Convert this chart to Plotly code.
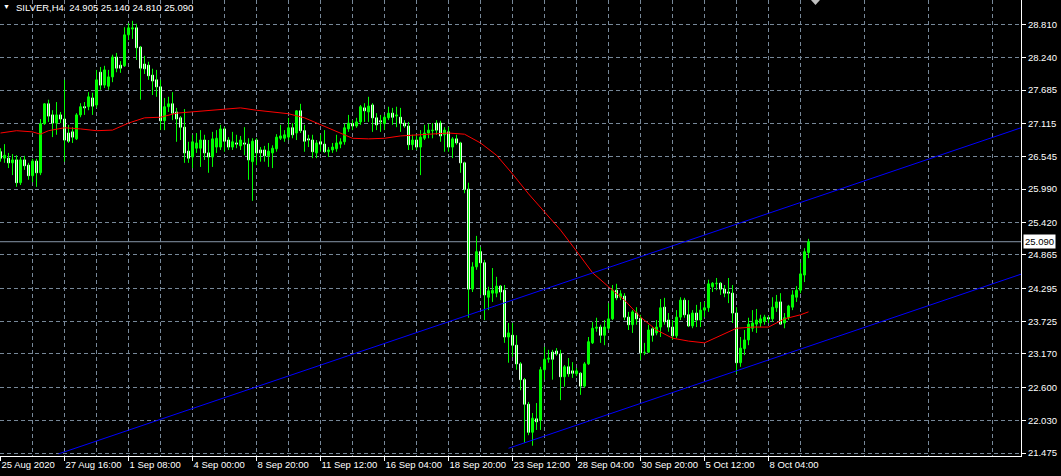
import plotly.graph_objects as go

symbol_text = "SILVER,H4\u00a0\u00a024.905 25.140 24.810 25.090"

open_ = [26.63,26.52,26.52,26.44,26.49,26.10,26.49,26.40,26.22,26.47,
26.27,27.11,27.45,27.26,27.12,27.26,27.19,26.95,26.97,26.85,
27.26,27.40,27.40,27.55,27.43,27.99,27.77,27.75,27.91,28.25,
28.11,28.10,28.63,28.73,28.75,28.42,28.13,28.11,27.94,27.86,
27.74,27.16,27.40,27.45,27.31,27.21,27.05,26.64,26.54,26.69,
26.69,26.83,26.61,26.54,26.71,26.71,27.02,26.83,26.71,26.78,
26.73,26.78,26.76,26.46,26.83,26.66,26.66,26.56,26.61,26.68,
26.86,26.86,26.88,27.04,26.95,27.33,26.99,26.85,26.83,26.61,
26.80,26.76,26.63,26.66,26.68,26.76,26.80,27.02,27.11,27.07,
27.14,27.38,27.31,27.43,27.21,27.16,27.11,27.21,27.29,27.24,
27.22,27.12,27.07,26.75,26.83,26.71,26.86,26.95,26.99,27.12,
27.12,26.92,26.97,26.71,26.85,26.78,26.44,25.99,24.28,24.66,
24.92,24.73,24.14,24.21,24.21,24.33,24.26,23.46,23.49,23.32,
23.00,22.73,22.31,21.83,22.06,22.04,22.90,23.08,23.20,23.22,
23.17,22.78,22.95,22.88,22.83,22.84,22.62,23.00,23.36,23.61,
23.63,23.49,23.61,23.77,24.26,24.14,24.16,23.80,23.67,23.87,
23.78,23.19,23.20,23.60,23.53,23.63,23.97,23.75,23.63,23.48,
23.80,24.09,23.84,23.65,23.87,23.75,23.92,23.96,24.32,24.37,
24.38,24.28,24.23,24.21,23.87,23.02,23.26,23.41,23.61,23.68,
23.70,23.73,23.79,23.77,23.96,24.06,23.70,23.79,23.97,24.14,
24.26,24.52,24.905]

high = [26.69,26.76,26.61,26.59,26.57,26.54,26.56,26.44,26.51,26.51,
27.19,27.46,27.52,27.34,27.48,27.31,27.86,27.09,27.05,27.29,
27.46,27.48,27.65,27.64,28.03,28.08,28.10,28.03,28.29,28.32,
28.18,28.76,28.83,28.87,28.82,28.44,28.27,28.17,28.05,28.03,
27.86,27.55,27.57,27.65,27.38,27.24,27.36,26.80,26.92,26.95,
27.00,26.92,26.83,26.97,27.00,27.09,27.05,26.88,26.97,26.92,
26.90,27.05,26.86,26.86,26.86,26.71,26.73,26.78,26.74,26.93,
27.09,27.00,27.21,27.12,27.34,27.45,27.09,26.92,26.92,26.83,
26.92,27.00,26.71,26.78,26.92,26.86,27.11,27.26,27.17,27.21,
27.43,27.46,27.57,27.46,27.29,27.26,27.26,27.40,27.38,27.40,
27.38,27.17,27.14,26.92,26.92,27.00,27.09,27.11,27.12,27.17,
27.16,27.05,27.05,26.88,26.92,26.80,26.46,26.10,24.74,25.19,
25.00,24.78,24.32,24.64,24.49,24.35,24.35,23.70,23.70,23.49,
23.03,22.76,22.35,22.16,22.33,22.95,23.29,23.24,23.24,23.27,
23.24,22.98,23.10,23.03,22.93,22.86,23.03,23.46,23.72,23.79,
23.67,23.75,24.04,24.35,24.37,24.26,24.21,23.89,23.92,23.97,
23.84,23.36,23.67,23.63,23.75,24.11,24.13,23.87,23.75,23.92,
24.14,24.13,24.09,23.92,24.01,24.06,24.06,24.44,24.40,24.47,
24.40,24.35,24.47,24.35,23.97,23.46,23.58,23.79,23.92,23.94,
23.84,23.84,23.82,24.14,24.18,24.21,23.87,24.01,24.26,24.33,
24.73,24.98,25.14]

low = [26.46,26.44,26.35,26.23,26.03,26.06,26.32,26.15,26.11,26.03,
26.23,27.09,27.14,26.88,26.92,27.12,26.46,26.78,26.78,26.83,
27.22,27.26,27.34,27.26,27.38,27.69,27.72,27.69,27.82,27.99,
27.98,28.08,28.54,28.56,28.20,27.52,27.96,27.86,27.60,27.57,
27.00,27.00,27.31,27.17,26.80,26.83,26.44,26.44,26.35,26.61,
26.37,26.49,26.27,26.37,26.61,26.66,26.63,26.66,26.66,26.69,
26.66,26.57,26.15,25.79,26.40,26.46,26.46,26.37,26.35,26.63,
26.83,26.80,26.83,26.86,26.83,26.95,26.63,26.71,26.52,26.52,
26.63,26.61,26.54,26.61,26.63,26.69,26.75,26.97,27.00,27.04,
27.09,27.14,27.14,26.97,27.00,26.97,27.00,27.17,27.09,27.05,
26.97,27.04,26.66,26.66,26.66,26.23,26.83,26.86,26.86,26.92,
26.80,26.63,26.63,26.52,26.75,26.27,25.92,23.79,24.23,24.61,
24.18,23.75,23.92,24.06,24.14,24.09,23.36,23.02,23.12,22.90,
22.55,21.65,21.78,21.60,21.87,21.87,22.73,23.02,22.73,23.14,
22.38,22.61,22.78,22.76,22.79,22.47,22.59,22.98,23.34,23.55,
23.36,23.32,23.58,23.75,24.09,24.09,23.75,23.58,23.53,23.67,
23.07,23.15,23.19,23.38,23.49,23.46,23.67,23.55,23.41,23.44,
23.75,23.79,23.63,23.61,23.63,23.63,23.80,23.89,24.23,24.26,
24.18,24.14,24.04,23.70,22.84,22.95,23.15,23.32,23.55,23.53,
23.63,23.67,23.70,23.72,23.89,23.67,23.61,23.75,23.92,24.06,
24.21,24.40,24.81]

close = [26.52,26.57,26.44,26.49,26.10,26.49,26.39,26.22,26.47,26.27,
27.11,27.45,27.24,27.12,27.26,27.19,26.83,26.81,26.88,27.26,
27.40,27.38,27.57,27.41,27.86,27.77,28.03,27.91,28.25,28.06,
28.06,28.63,28.75,28.75,28.41,28.06,28.05,27.93,27.84,27.74,
27.16,27.40,27.45,27.29,27.19,27.05,26.61,26.52,26.80,26.78,
26.83,26.61,26.54,26.85,26.86,27.02,26.81,26.71,26.80,26.76,
26.83,26.76,26.49,26.81,26.61,26.61,26.56,26.64,26.69,26.88,
26.90,26.92,27.04,26.92,27.33,26.99,26.81,26.83,26.63,26.78,
26.76,26.63,26.66,26.71,26.78,26.80,27.04,27.12,27.07,27.14,
27.40,27.33,27.41,27.21,27.09,27.14,27.22,27.29,27.22,27.26,
27.12,27.07,26.75,26.83,26.71,26.88,26.95,27.00,27.00,27.00,
26.90,27.00,26.71,26.85,26.78,26.44,25.99,24.28,24.66,24.92,
24.73,24.18,24.25,24.26,24.33,24.23,23.46,23.53,23.32,23.00,
22.73,22.31,21.83,22.07,22.01,22.90,23.08,23.10,23.08,23.17,
22.78,22.95,22.83,22.84,22.88,22.62,23.00,23.38,23.61,23.63,
23.49,23.63,23.77,24.26,24.13,24.20,23.80,23.67,23.89,23.77,
23.19,23.20,23.58,23.49,23.63,23.96,23.72,23.63,23.48,23.80,
24.09,23.84,23.65,23.87,23.75,23.92,23.96,24.37,24.38,24.38,
24.28,24.21,24.21,23.87,23.02,23.27,23.41,23.68,23.70,23.75,
23.77,23.80,23.77,23.97,24.06,23.68,23.79,23.99,24.18,24.26,
24.54,24.92,25.09]

# moving average (sampled at bar indices)
ma_idx = [0,4,8,10,12,16,20,24,28,32,36,40,44,48,52,56,60,64,68,72,76,80,84,88,92,96,
          100,104,108,112,116,118,120,124,128,132,136,140,144,148,152,156,160,164,168,
          172,176,180,184,188,192,196,200,202]
ma_val = [26.95,26.99,26.97,26.93,26.99,27.04,27.02,26.99,27.00,27.12,27.21,27.22,27.29,
          27.31,27.33,27.36,27.38,27.34,27.31,27.28,27.21,27.09,26.97,26.86,26.85,26.86,
          26.90,26.92,26.93,26.95,26.93,26.85,26.78,26.57,26.25,25.91,25.60,25.29,24.93,
          24.56,24.32,24.09,23.80,23.58,23.44,23.39,23.36,23.49,23.61,23.63,23.63,23.77,
          23.84,23.89]

# channel lines (bar index, price)
chan_upper_idx = [14.5, 256]
chan_upper_px = [21.46, 27.06]
chan_lower_idx = [127, 256]
chan_lower_px = [21.556, 24.555]

last_price = 25.090

x_tick_idx = [0,16,32,48,64,80,96,112,128,144,160,176,192]
x_tick_txt = ["25 Aug 2020","27 Aug 16:00","1 Sep 08:00","4 Sep 00:00","8 Sep 20:00",
              "11 Sep 12:00","16 Sep 04:00","18 Sep 20:00","23 Sep 12:00","28 Sep 04:00",
              "30 Sep 20:00","5 Oct 12:00","8 Oct 04:00"]
x_grid_idx = [8,24,40,56,72,88,104,120,136,152,168,184,200,216,232,248]
y_ticks = [28.810,28.240,27.685,27.115,26.545,25.990,25.420,24.865,24.295,23.725,
           23.170,22.600,22.030,21.475]

FONT = "Liberation Sans, Arial, sans-serif"
GRID = "#778899"
GREEN = "#00ff00"
n = len(close)
xs = list(range(n))

# wicks
wx, wy = [], []
for i in xs:
    wx += [i, i, None]
    wy += [low[i], high[i], None]
body_base = [min(o, c) for o, c in zip(open_, close)]
body_len = [max(abs(c - o), 0.004) for o, c in zip(open_, close)]
bull = [c > o for o, c in zip(open_, close)]
body_fill = ["#000000" if b else "#ffffff" for b in bull]
body_edge = [GREEN if b else "#e8ffe8" for b in bull]

fig = go.Figure()
fig.add_trace(go.Scatter(x=wx, y=wy, mode="lines", line=dict(color=GREEN, width=1),
                         hoverinfo="skip", showlegend=False))
fig.add_trace(go.Bar(x=xs, y=body_len, base=body_base, width=0.5,
                     marker=dict(color=body_fill, line=dict(color=body_edge, width=1)),
                     hoverinfo="skip", showlegend=False))
fig.add_trace(go.Scatter(x=ma_idx, y=ma_val, mode="lines",
                         line=dict(color="#ff0000", width=1), hoverinfo="skip", showlegend=False))
fig.add_trace(go.Scatter(x=chan_upper_idx, y=chan_upper_px, mode="lines",
                         line=dict(color="#0000ff", width=1), hoverinfo="skip", showlegend=False))
fig.add_trace(go.Scatter(x=chan_lower_idx, y=chan_lower_px, mode="lines",
                         line=dict(color="#0000ff", width=1), hoverinfo="skip", showlegend=False))

fig.add_shape(type="line", xref="paper", x0=0, x1=1, yref="y", y0=last_price, y1=last_price,
              line=dict(color="#8796aa", width=1), layer="below")
# chart shift marker
fig.add_shape(type="path", xref="paper", yref="paper",
              path="M 0.7943 1 L 0.8031 1 L 0.7987 0.989 Z",
              fillcolor="#c0c0c0", line=dict(width=0))

fig.add_annotation(x=1, xref="paper", xanchor="left", xshift=2, y=last_price, yref="y",
                   text="25.090", showarrow=False, bgcolor="#ffffff",
                   font=dict(family=FONT, size=9.5, color="#000000"), borderpad=1)
fig.add_annotation(x=0, xref="paper", xanchor="left", xshift=1, y=1, yref="paper", yanchor="top",
                   yshift=-1, text="\u25bc", showarrow=False,
                   font=dict(family=FONT, size=7, color="#ffffff"))
fig.add_annotation(x=0, xref="paper", xanchor="left", xshift=14, y=1, yref="paper", yanchor="top",
                   yshift=0, text=symbol_text, showarrow=False,
                   font=dict(family=FONT, size=9.5, color="#ffffff"))

fig.update_layout(
    width=1061, height=476,
    margin=dict(l=0, r=40, t=0, b=20, autoexpand=False),
    paper_bgcolor="#000000", plot_bgcolor="#000000",
    showlegend=False, hovermode=False, barmode="overlay",
    xaxis=dict(
        range=[-0.125, 255.125],
        tickmode="array", tickvals=x_tick_idx, ticktext=x_tick_txt,
        ticklabelposition="outside right", tickangle=0, automargin=False,
        ticks="outside", ticklen=4, tickcolor="#ffffff", tickwidth=1,
        tickfont=dict(family=FONT, size=9.5, color="#ffffff"),
        showline=True, linecolor="#ffffff", linewidth=1,
        showgrid=True, gridcolor=GRID, griddash="4px,3px", gridwidth=1,
        minor=dict(tickmode="array", tickvals=x_grid_idx, showgrid=True,
                   gridcolor=GRID, griddash="4px,3px", gridwidth=1, ticks=""),
        zeroline=False, fixedrange=True),
    yaxis=dict(
        side="right", range=[21.424, 29.226], automargin=False,
        tickmode="array", tickvals=y_ticks, ticktext=[f"{v:.3f}" for v in y_ticks],
        ticks="outside", ticklen=4, tickcolor="#ffffff", tickwidth=1,
        tickfont=dict(family=FONT, size=9.5, color="#ffffff"),
        showline=True, linecolor="#ffffff", linewidth=1,
        showgrid=True, gridcolor=GRID, griddash="4px,3px", gridwidth=1,
        zeroline=False, fixedrange=True),
)

page_js = ("document.documentElement.style.margin='0';document.body.style.margin='0';"
           "document.body.style.padding='0';document.body.style.overflow='hidden';"
           "document.body.style.background='#000';")
fig.write_html("out.html", post_script=page_js, config={"displayModeBar": False})
